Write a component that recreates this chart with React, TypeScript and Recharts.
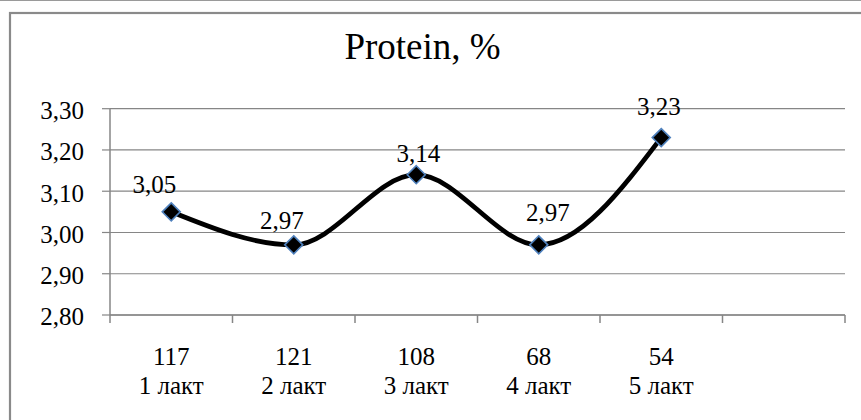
import React from "react";
import { LineChart, Line, XAxis, YAxis, CartesianGrid, LabelList } from "recharts";

// Herd size per lactation group and the matching mean milk protein
const herdCounts = ["117", "121", "108", "68", "54", ""];
const lactations = ["1 лакт", "2 лакт", "3 лакт", "4 лакт", "5 лакт", ""];
const protein: (number | null)[] = [3.05, 2.97, 3.14, 2.97, 3.23, null];
const yTicks = [2.8, 2.9, 3.0, 3.1, 3.2, 3.3];

// small hand-placed nudges for the value labels: [dx, rise above marker]
const labelNudge: [number, number][] = [
  [-17, 18.5],
  [-12, 16],
  [2, 13],
  [9, 24],
  [-2.5, 23],
];

const data = herdCounts.map((n, i) => ({
  n,
  lact: lactations[i],
  protein: protein[i],
}));

const FONT = "Liberation Serif, Tinos, DejaVu Serif, Times New Roman, serif";
const GRID = "#868686";

const fmt = (v: number) => v.toFixed(2).replace(".", ",");

const Diamond = (props: any) => {
  const { cx, cy, value } = props;
  if (value == null || cx == null || cy == null) return null;
  const r = 9;
  return (
    <polygon
      points={`${cx},${cy - r} ${cx + r},${cy} ${cx},${cy + r} ${cx - r},${cy}`}
      fill="#000"
      stroke="#4F81BD"
      strokeWidth={1.6}
    />
  );
};

const CategoryTick = (props: any) => {
  const { x, y, payload, index } = props;
  const half = payload && payload.offset ? payload.offset : 61.25;
  const i = payload && payload.index != null ? payload.index : index;
  const last = i === herdCounts.length - 1;
  return (
    <g>
      <line x1={x - half} y1={y} x2={x - half} y2={y + 8} stroke={GRID} strokeWidth={1.5} />
      {last && (
        <line x1={x + half} y1={y} x2={x + half} y2={y + 8} stroke={GRID} strokeWidth={1.5} />
      )}
      <text x={x} y={y + 49.5} textAnchor="middle" fontFamily={FONT} fontSize={25} fill="#000">
        {herdCounts[i]}
      </text>
      <text x={x} y={y + 79} textAnchor="middle" fontFamily={FONT} fontSize={25} fill="#000">
        {lactations[i]}
      </text>
    </g>
  );
};

const ValueLabel = (props: any) => {
  const { x, y, value, index } = props;
  if (value == null) return null;
  const [dx, rise] = labelNudge[index] || [0, 18];
  return (
    <text x={x + dx} y={y - rise} textAnchor="middle" fontFamily={FONT} fontSize={25} fill="#000">
      {fmt(Number(value))}
    </text>
  );
};

export default function App() {
  return (
    <div style={{ position: "absolute", left: 0, top: 0, width: 861, height: 420, background: "#fff" }}>
      <LineChart
        width={861}
        height={420}
        data={data}
        margin={{ top: 108.7, right: 16, bottom: 0, left: 0 }}
      >
        <line x1={0} y1={0.5} x2={861} y2={0.5} stroke="#9a9a9a" strokeWidth={1} />
        <rect x={10} y={13} width={900} height={450} fill="none" stroke="#8a8a8a" strokeWidth={2.2} />
        <text x={422.5} y={59} textAnchor="middle" fontFamily={FONT} fontSize={37} fill="#000">
          Protein, %
        </text>
        <CartesianGrid vertical={false} stroke={GRID} strokeWidth={1.2} />
        <XAxis
          dataKey="n"
          scale="band"
          height={105}
          interval={0}
          tickLine={false}
          tickSize={0}
          tickMargin={0}
          axisLine={{ stroke: GRID, strokeWidth: 1.5 }}
          tick={<CategoryTick />}
        />
        <YAxis
          width={110}
          domain={[2.8, 3.3]}
          ticks={yTicks}
          interval={0}
          tickFormatter={fmt}
          tickSize={8}
          tickMargin={18}
          axisLine={{ stroke: GRID, strokeWidth: 1.5 }}
          tickLine={{ stroke: GRID, strokeWidth: 1.2 }}
          tick={{ fontFamily: FONT, fontSize: 25, fill: "#000", dy: 1.5 }}
        />
        <Line
          type="monotone"
          dataKey="protein"
          stroke="#000"
          strokeWidth={4.8}
          dot={<Diamond />}
          activeDot={false}
          isAnimationActive={false}
          connectNulls={false}
        >
          <LabelList dataKey="protein" content={<ValueLabel />} />
        </Line>
      </LineChart>
    </div>
  );
}
